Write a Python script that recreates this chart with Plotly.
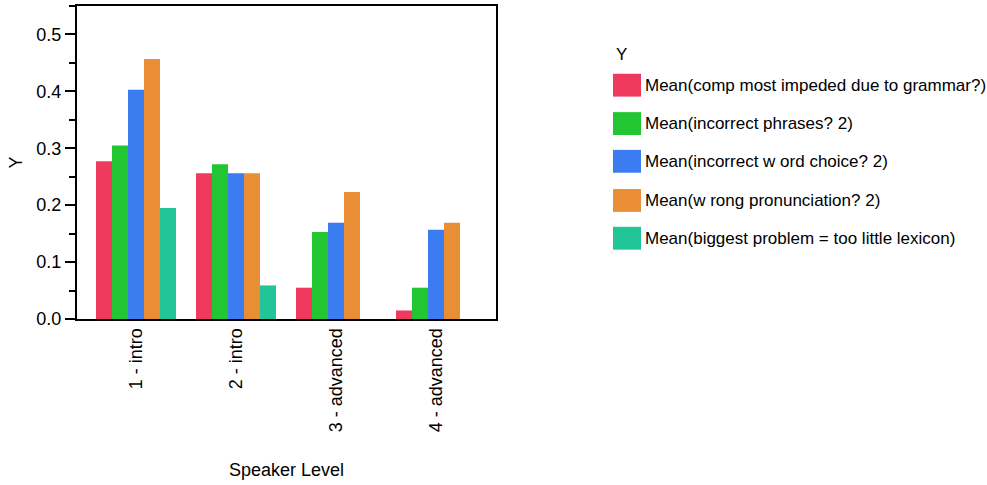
import plotly.graph_objects as go

categories = ["1 - intro", "2 - intro", "3 - advanced", "4 - advanced"]
series_names = [
    "Mean(comp most impeded due to grammar?)",
    "Mean(incorrect phrases? 2)",
    "Mean(incorrect w ord choice? 2)",
    "Mean(w rong pronunciation? 2)",
    "Mean(biggest problem = too little lexicon)",
]
grammar = [0.277, 0.256, 0.055, 0.015]
phrases = [0.305, 0.272, 0.153, 0.055]
word_choice = [0.403, 0.256, 0.169, 0.157]
pronunciation = [0.457, 0.256, 0.223, 0.169]
lexicon = [0.195, 0.059, 0.0, 0.0]
colors = ["#EF3A5D", "#22C532", "#3B7DF0", "#E98E35", "#21C598"]

series_values = [grammar, phrases, word_choice, pronunciation, lexicon]

W, H = 987, 485
L, R, T, B = 77, 496, 4, 319
FONT = "Liberation Sans, Arial, sans-serif"

fig = go.Figure()
for name, vals, col in zip(series_names, series_values, colors):
    fig.add_trace(go.Bar(x=categories, y=vals, name=name, marker_color=col,
                         marker_line_width=0, showlegend=False))

def px_x(px):
    return (px - L) / (R - L)

def px_y(py):
    return (B - py) / (B - T)

shapes = []
annotations = []
centers = [83.7, 122.3, 160.3, 199.7, 237.7]
for name, col, cy in zip(series_names, colors, centers):
    shapes.append(dict(type="rect", xref="paper", yref="paper",
                       x0=px_x(613), x1=px_x(641), y0=px_y(cy + 11.5), y1=px_y(cy - 11.5),
                       fillcolor=col, line_width=0))
    annotations.append(dict(text=name, xref="paper", yref="paper", x=px_x(643), y=px_y(cy),
                            xanchor="left", yanchor="middle", showarrow=False,
                            font=dict(size=17, color="black", family=FONT)))
annotations.append(dict(text="Y", xref="paper", yref="paper", x=px_x(614), y=px_y(52.5),
                        xanchor="left", yanchor="middle", showarrow=False,
                        font=dict(size=17, color="black", family=FONT)))

fig.update_layout(
    width=W, height=H,
    margin=dict(l=L, r=W - R, t=T, b=H - B),
    paper_bgcolor="white", plot_bgcolor="white",
    barmode="group", bargap=0.2, bargroupgap=0,
    font=dict(family=FONT, size=17, color="black"),
    shapes=shapes, annotations=annotations,
    showlegend=False,
)
fig.update_xaxes(
    range=[-0.59, 3.6], tickangle=-90, showgrid=False,
    showline=True, linecolor="black", linewidth=2, mirror=True,
    ticks="", tickfont=dict(size=18),
    title=dict(text="Speaker Level", font=dict(size=18), standoff=32),
)
fig.update_yaxes(
    range=[0, 0.55], dtick=0.1, tick0=0, tickformat=".1f", showgrid=False,
    showline=True, linecolor="black", linewidth=2, mirror=True,
    ticks="outside", ticklen=10, tickwidth=1.5, tickcolor="black",
    minor=dict(ticks="outside", ticklen=6, dtick=0.05, tickwidth=1.5, tickcolor="black"),
    tickfont=dict(size=18), zeroline=False,
    title=dict(text="Y", font=dict(size=18), standoff=9),
)

fig.write_html("out.html", post_script="document.body.style.margin='0px';",
               config={"displayModeBar": False})
